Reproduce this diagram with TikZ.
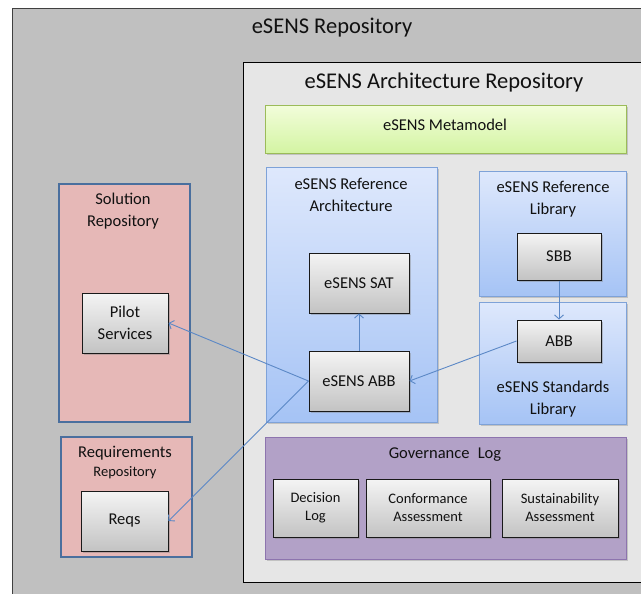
\documentclass[tikz,border=0pt]{standalone}
\usepackage{fontspec}
\setmainfont{Carlito}
\usetikzlibrary{arrows.meta,shadows}
\definecolor{graybg}{HTML}{C0C0C0}
\definecolor{archbg}{HTML}{E6E6E6}
\definecolor{metatop}{HTML}{F2FDDA}
\definecolor{metabot}{HTML}{D3F4A2}
\definecolor{metaedge}{HTML}{9BBB59}
\definecolor{bluetop}{HTML}{DEE8FC}
\definecolor{bluebot}{HTML}{A5C3F5}
\definecolor{blueedge}{HTML}{7EA2D8}
\definecolor{redfill}{HTML}{E6B8B7}
\definecolor{rededge}{HTML}{4A6F9E}
\definecolor{purfill}{HTML}{B2A1C7}
\definecolor{puredge}{HTML}{8D74AE}
\definecolor{boxtop}{HTML}{F4F4F4}
\definecolor{boxbot}{HTML}{C3C3C3}
\definecolor{arrowc}{HTML}{5B88C6}
\definecolor{txt}{HTML}{111111}
\newcommand{\bigtxt}{\fontsize{22.5}{27}\selectfont}
\newcommand{\midtxt}{\fontsize{16.5}{21.5}\selectfont}
\newcommand{\smltxt}{\fontsize{14.5}{18}\selectfont}
\begin{document}
\begin{tikzpicture}[x=1pt,y=-1pt,
  cont/.style={anchor=north west, inner sep=0pt},
  outerbox/.style={cont, draw=black!75, line width=0.9pt, fill=graybg},
  archbox/.style={cont, draw=black, line width=0.9pt, fill=archbg},
  metabox/.style={cont, draw=metaedge, line width=0.9pt, top color=metatop, bottom color=metabot,
    drop shadow={shadow xshift=1.5pt, shadow yshift=-1.5pt, opacity=0.35}},
  bluebox/.style={cont, draw=blueedge, line width=0.9pt, top color=bluetop, bottom color=bluebot,
    drop shadow={shadow xshift=1.5pt, shadow yshift=-1.5pt, opacity=0.35}},
  redbox/.style={cont, draw=rededge, line width=1.6pt, fill=redfill},
  purbox/.style={cont, draw=puredge, line width=1.2pt, fill=purfill,
    drop shadow={shadow xshift=1.5pt, shadow yshift=-1.5pt, opacity=0.35}},
  graybox/.style={draw=black!90, line width=1pt, top color=boxtop, bottom color=boxbot,
    inner sep=0pt, align=center, text=txt, font=\midtxt,
    drop shadow={shadow xshift=2pt, shadow yshift=-2pt, opacity=0.4}},
  title/.style={align=center, text=txt, inner sep=0pt},
  link/.style={draw=arrowc, line width=0.9pt, -{Straight Barb[length=4pt,width=9pt]}}
]
\useasboundingbox (0,0) rectangle (641,594);
\fill[white] (0,0) rectangle (641,594);
\begin{scope}
\clip (0,0) rectangle (641,594);
% containers
\node[outerbox, minimum width=660pt, minimum height=620pt] (repo) at (12,8) {};
\node[title, font=\bigtxt] (repotitle) at (332,28) {eSENS Repository};
\node[archbox, minimum width=420pt, minimum height=520pt] (arch) at (243,62) {};
\node[title, font=\bigtxt] (archtitle) at (444,82.5) {eSENS Architecture Repository};
\node[metabox, minimum width=361pt, minimum height=48pt] (meta) at (265,105) {};
\node[title, font=\midtxt] (metatitle) at (445,124.5) {eSENS Metamodel};
\node[bluebox, minimum width=171pt, minimum height=255pt] (refarch) at (266,167) {};
\node[title, font=\midtxt] (refarchtitle) at (351,195) {eSENS Reference\\Architecture};
\node[bluebox, minimum width=147pt, minimum height=125pt] (reflib) at (479,171) {};
\node[title, font=\midtxt] (reflibtitle) at (553,199) {eSENS Reference\\Library};
\node[bluebox, minimum width=147pt, minimum height=122pt] (stdlib) at (479,302) {};
\node[title, font=\midtxt] (stdlibtitle) at (553,399) {eSENS Standards\\Library};
\node[purbox, minimum width=361pt, minimum height=122pt] (gov) at (265,437) {};
\node[title, font=\midtxt] (govtitle) at (445,454.5) {Governance\hspace{0.5em}Log};
\node[redbox, minimum width=131pt, minimum height=238pt] (solrepo) at (58,183) {};
\node[title, font=\midtxt] (soltitle) at (123,211) {Solution\\Repository};
\node[redbox, minimum width=131pt, minimum height=120pt] (reqrepo) at (60,436) {};
\node[title, font=\midtxt] (reqtitle) at (125,453.5) {Requirements};
\node[title, font=\smltxt] (reqtitle2) at (125,473) {Repository};
% boxes
\node[graybox, minimum width=100pt, minimum height=60pt] (sat) at (359,283) {eSENS SAT};
\node[graybox, minimum width=100pt, minimum height=60pt] (eabb) at (359,381) {eSENS ABB};
\node[graybox, minimum width=84pt, minimum height=47pt] (sbb) at (559,256.5) {SBB};
\node[graybox, minimum width=84pt, minimum height=42pt] (abb) at (559,341) {ABB};
\node[graybox, minimum width=86pt, minimum height=60pt] (pilot) at (125,323) {Pilot\\Services};
\node[graybox, minimum width=87pt, minimum height=60pt] (reqs) at (124.5,521) {Reqs};
\node[graybox, minimum width=85pt, minimum height=58pt, font=\smltxt] (decision) at (315.5,508) {Decision\\Log};
\node[graybox, minimum width=124pt, minimum height=58pt, font=\smltxt] (conf) at (428,508) {Conformance\\Assessment};
\node[graybox, minimum width=116pt, minimum height=58pt, font=\smltxt] (sust) at (560,508) {Sustainability\\Assessment};
% connectors
\draw[link] (sbb.south) -- (abb.north);
\draw[link] (abb.west) -- (eabb.east);
\draw[link] (eabb.north) -- (sat.south);
\draw[link] (eabb.west) -- (pilot.east);
\draw[link] (eabb.west) -- (reqs.east);
\end{scope}
\end{tikzpicture}
\end{document}
